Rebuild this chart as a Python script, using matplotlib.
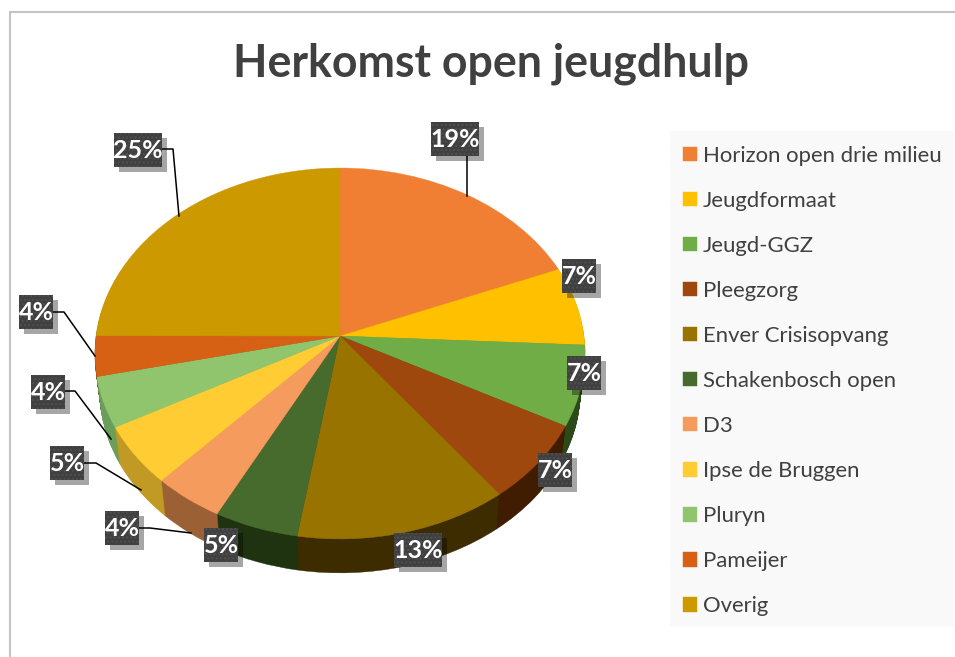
import numpy as np
import matplotlib
matplotlib.use("Agg")
import matplotlib.pyplot as plt
from matplotlib.patches import Rectangle
from matplotlib.transforms import Transform, Affine2D

categories = ["Horizon open drie milieu", "Jeugdformaat", "Jeugd-GGZ", "Pleegzorg",
              "Enver Crisisopvang", "Schakenbosch open", "D3", "Ipse de Bruggen",
              "Pluryn", "Pameijer", "Overig"]
values = [18.9, 6.9, 7.0, 6.9, 12.9, 5.1, 4.3, 5.2, 4.4, 3.5, 25.0]
pct_labels = ["19%", "7%", "7%", "7%", "13%", "5%", "4%", "5%", "4%", "4%", "25%"]
title = "Herkomst open jeugdhulp"

colors = ["#F07F33", "#FFC000", "#70AD47", "#9E480E", "#997300", "#466B2C",
          "#F59B5E", "#FFCD33", "#90C56E", "#D66114", "#CC9900"]
side_colors = ["#7A3F18", "#806000", "#2A4A1A", "#401C00", "#3D2C00", "#1F3311",
               "#9C6035", "#C09A25", "#6B9E58", "#7A3A0C", "#806000"]

W, H = 955, 657
plt.rcParams["font.family"] = ["Lato", "DejaVu Sans"]
fig = plt.figure(figsize=(W / 100, H / 100), dpi=100, facecolor="white")
ax = fig.add_axes([0, 0, 1, 1])

CX, CY = 340, 336
KX, KY, C = 244.0, 183.8, 0.0943


class Perspective(Transform):
    """Tilted disc seen in perspective: unit pie -> pixels around the apex."""
    input_dims = output_dims = 2
    is_separable = False
    has_inverse = False

    def transform_non_affine(self, values):
        xy = np.asarray(values, dtype=float)
        d = 1 + C * xy[:, 1]
        return np.column_stack((KX * xy[:, 0] / d, KY * xy[:, 1] / d))


def draw_layer(cols, scale, drop):
    ws, _ = ax.pie(values, colors=cols, startangle=90, counterclock=False, radius=1,
                   center=(0, 0), frame=True)
    tr = (Perspective() + Affine2D().scale(scale, -scale).translate(CX, CY + drop)
          + ax.transData)
    for w, c in zip(ws, cols):
        w.set_edgecolor(c)
        w.set_linewidth(0.3)
        w.set_transform(tr)
    return ws


N = 38
for i in range(N, 0, -1):
    draw_layer(side_colors, 1 - 0.02 * i / N, 38 * i / N)
wedges = draw_layer(colors, 1, 0)

ax.set_aspect("auto")
ax.set_xlim(0, W)
ax.set_ylim(H, 0)
ax.axis("off")

ov = fig.add_axes([0, 0, 1, 1], zorder=3)
ov.set_xlim(0, W)
ov.set_ylim(H, 0)
ov.axis("off")

# chart border (left and top only)
ov.plot([10, 10, W], [H, 12, 12], color="#C4C4C4", lw=1.5, solid_joinstyle="miter")

ov.text(490.5, 64, title, ha="center", va="center", fontsize=32.1, fontweight="bold", color="#404040")

label_centers = [(455, 139), (579, 276), (584, 373), (555, 470), (418, 550), (221, 545),
                 (122, 528), (67, 463), (48, 392), (36, 312), (138, 150)]
leaders = {
    0: [(467, 156), (467, 196)],
    6: [(139, 528), (150, 528), (191, 533)],
    7: [(84, 463), (96, 463), (141, 490)],
    8: [(65, 391), (75, 391), (111, 439)],
    9: [(53, 312), (64, 312), (95, 356)],
    10: [(162, 149), (173, 149), (179, 216)],
}
for pts in leaders.values():
    ov.plot([p[0] for p in pts], [p[1] for p in pts], color="black", lw=1.1, zorder=4)

for lab, (cx, cy) in zip(pct_labels, label_centers):
    w = 48 if len(lab) == 3 else 34
    h = 34
    ov.add_patch(Rectangle((cx - w / 2 + 5, cy - h / 2 + 5), w, h, facecolor="black", alpha=0.35, lw=0, zorder=5))
    ov.add_patch(Rectangle((cx - w / 2, cy - h / 2), w, h, facecolor="#404040", edgecolor="#505050",
                           hatch="....", lw=0, zorder=6))
    ov.text(cx, cy + 0.5, lab, ha="center", va="center", color="white", fontsize=18,
            fontweight="bold", zorder=7)

# legend panel and legend
ov.add_patch(Rectangle((670, 131), 284, 496, facecolor="#F9F9F9", lw=0, zorder=1))
leg = fig.legend(wedges, categories, loc="upper left",
                 bbox_to_anchor=(683 / W, 1 - 145.5 / H), borderaxespad=0, borderpad=0,
                 fontsize=15.9, frameon=False, labelcolor="#404040",
                 handlelength=0.63, handleheight=0.63, handletextpad=0.27,
                 labelspacing=1.136)
leg.set_zorder(8)

fig.savefig("out.png", dpi=100)
